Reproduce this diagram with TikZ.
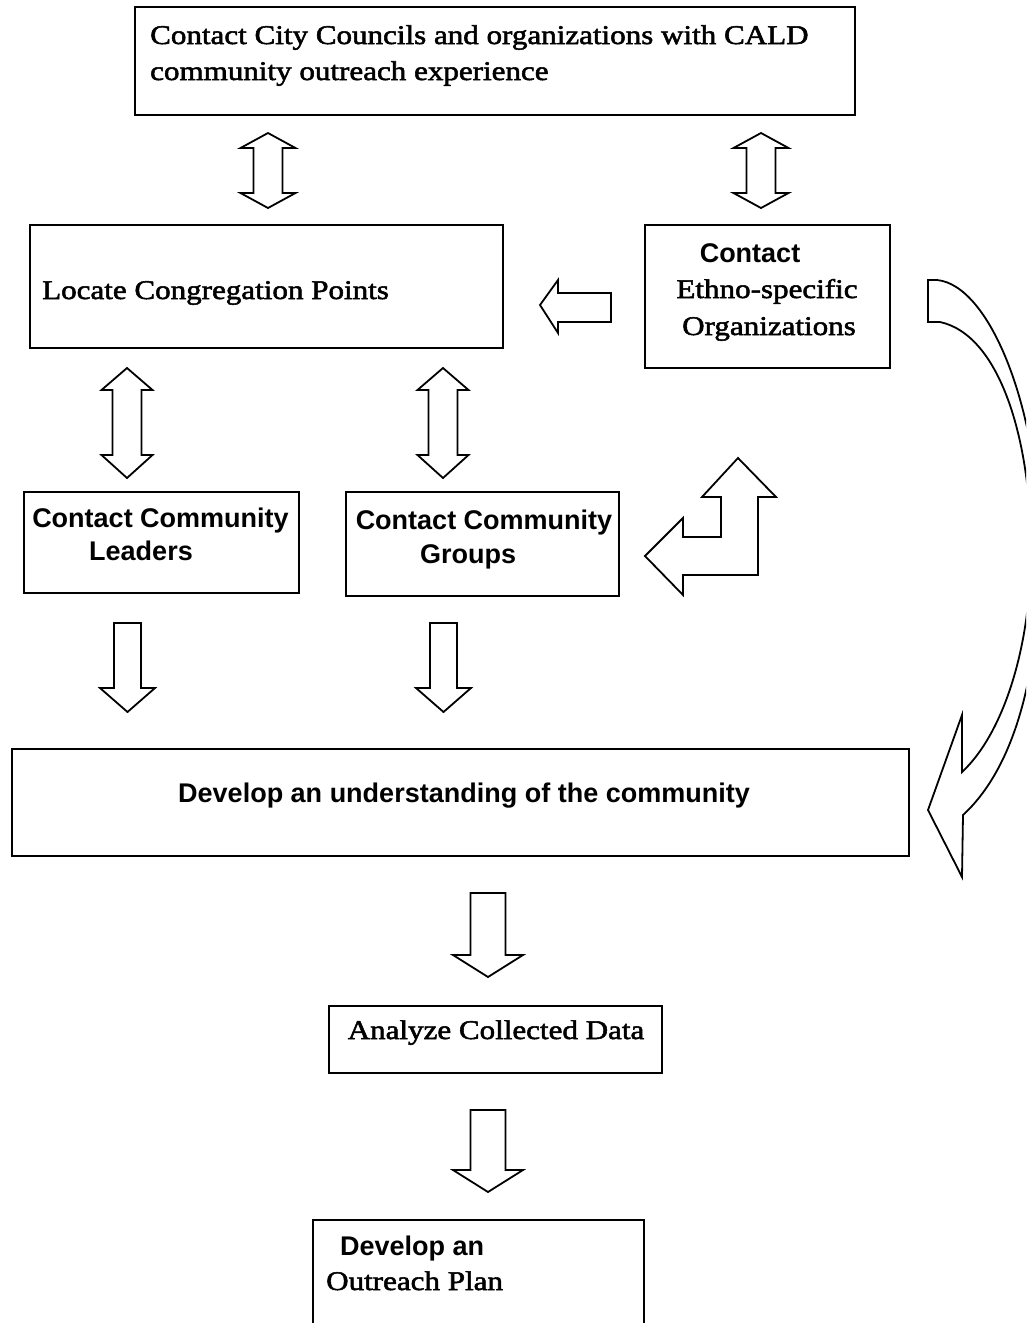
\documentclass[tikz,border=0pt]{standalone}
\usepackage{fontspec}
\newfontfamily\serifR[FakeStretch=1.15,FakeBold=2]{Liberation Serif}
\newfontfamily\sansR{Liberation Sans}
\newcommand\dblarr[7]{% cx, ytip1, ybase1, ybase2, ytip2, shaft half, head half
  \draw[blockarrow] (#1,#2) -- (#1+#7,#3) -- (#1+#6,#3) -- (#1+#6,#4) -- (#1+#7,#4) -- (#1,#5)
     -- (#1-#7,#4) -- (#1-#6,#4) -- (#1-#6,#3) -- (#1-#7,#3) -- cycle;}
\newcommand\dnarr[6]{% cx, ytop, ybase, ytip, shaft half, head half
  \draw[blockarrow] (#1-#5,#2) -- (#1+#5,#2) -- (#1+#5,#3) -- (#1+#6,#3) -- (#1,#4)
     -- (#1-#6,#3) -- (#1-#5,#3) -- cycle;}
\begin{document}
\begin{tikzpicture}[x=1pt,y=-1pt,
  box/.style={draw, line width=2pt, fill=white, inner sep=0pt, outer sep=0pt},
  blockarrow/.style={draw, line width=1.8pt, fill=white, line join=miter},
  sertext/.style={font=\fontsize{27}{30}\selectfont\serifR, inner sep=0pt},
  santext/.style={font=\fontsize{27}{30}\selectfont\sansR\bfseries, inner sep=0pt}]
\useasboundingbox (0,0) rectangle (1026,1323);
\clip (0,0) rectangle (1026,1323);
\fill[white] (0,0) rectangle (1026,1323);

% boxes
\node[box, minimum width=720pt, minimum height=108pt] (b1) at (495,61) {};
\node[box, minimum width=473pt, minimum height=123pt] (b2) at (266.5,286.5) {};
\node[box, minimum width=245pt, minimum height=143pt] (b3) at (767.5,296.5) {};
\node[box, minimum width=275pt, minimum height=101pt] (b4) at (161.5,542.5) {};
\node[box, minimum width=273pt, minimum height=104pt] (b5) at (482.5,544) {};
\node[box, minimum width=897pt, minimum height=107pt] (b6) at (460.5,802.5) {};
\node[box, minimum width=333pt, minimum height=67pt] (b7) at (495.5,1039.5) {};
\node[box, minimum width=331pt, minimum height=120pt] (b8) at (478.5,1280) {};

% texts
\node[sertext, anchor=base west] (t1a) at (150,44) {Contact City Councils and organizations with CALD};
\node[sertext, anchor=base west] (t1b) at (150,80) {community outreach experience};
\node[sertext, anchor=base west] (t2) at (42,299) {Locate Congregation Points};
\node[santext, anchor=base] (t3a) at (750,262) {Contact};
\node[sertext, anchor=base] (t3b) at (767,298) {Ethno-specific};
\node[sertext, anchor=base] (t3c) at (769,335) {Organizations};
\node[santext, anchor=base] (t4a) at (160.5,527) {Contact Community};
\node[santext, anchor=base] (t4b) at (141,560) {Leaders};
\node[santext, anchor=base] (t5a) at (484,529) {Contact Community};
\node[santext, anchor=base] (t5b) at (468,563) {Groups};
\node[santext, anchor=base] (t6) at (464,802) {Develop an understanding of the community};
\node[sertext, anchor=base] (t7) at (496,1039) {Analyze Collected Data};
\node[santext, anchor=base west] (t8a) at (340,1255) {Develop an};
\node[sertext, anchor=base west] (t8b) at (326,1290) {Outreach Plan};

% double arrows
\dblarr{268}{133}{148}{193}{208}{14.5}{27.5}
\dblarr{761}{133}{148}{193}{208}{14.5}{27.5}
\dblarr{127}{368}{390}{455}{478}{14.5}{25.5}
\dblarr{443}{368}{390}{455}{478}{14.5}{25.5}

% down arrows
\dnarr{127.5}{623}{688}{712}{13.5}{27.5}
\dnarr{443.5}{623}{688}{712}{13.5}{27.5}
\dnarr{488}{893}{955}{977}{17.5}{35}
\dnarr{488}{1110}{1170}{1192}{17.5}{35}

% left arrow
\draw[blockarrow] (540,305) -- (558,280) -- (558,293) -- (611,293) -- (611,322) -- (558,322) -- (558,333) -- cycle;

% L-shaped arrow
\draw[blockarrow] (645,556) -- (683,518) -- (683,537) -- (721,537) -- (721,497) -- (702,497) -- (738,458)
  -- (776,497) -- (758,497) -- (758,575) -- (683,575) -- (683,595) -- cycle;

% curved arrow
\draw[blockarrow] (928,280) -- (937,280)
  .. controls (990,285) and (1040,410) .. (1040,550)
  .. controls (1040,680) and (1012,770) .. (963,815)
  -- (962,877) -- (928,810) -- (962,715) -- (962,772)
  .. controls (1002,735) and (1031,650) .. (1031,550)
  .. controls (1031,440) and (1000,335) .. (940,322)
  -- (928,322) -- cycle;
\end{tikzpicture}
\end{document}
